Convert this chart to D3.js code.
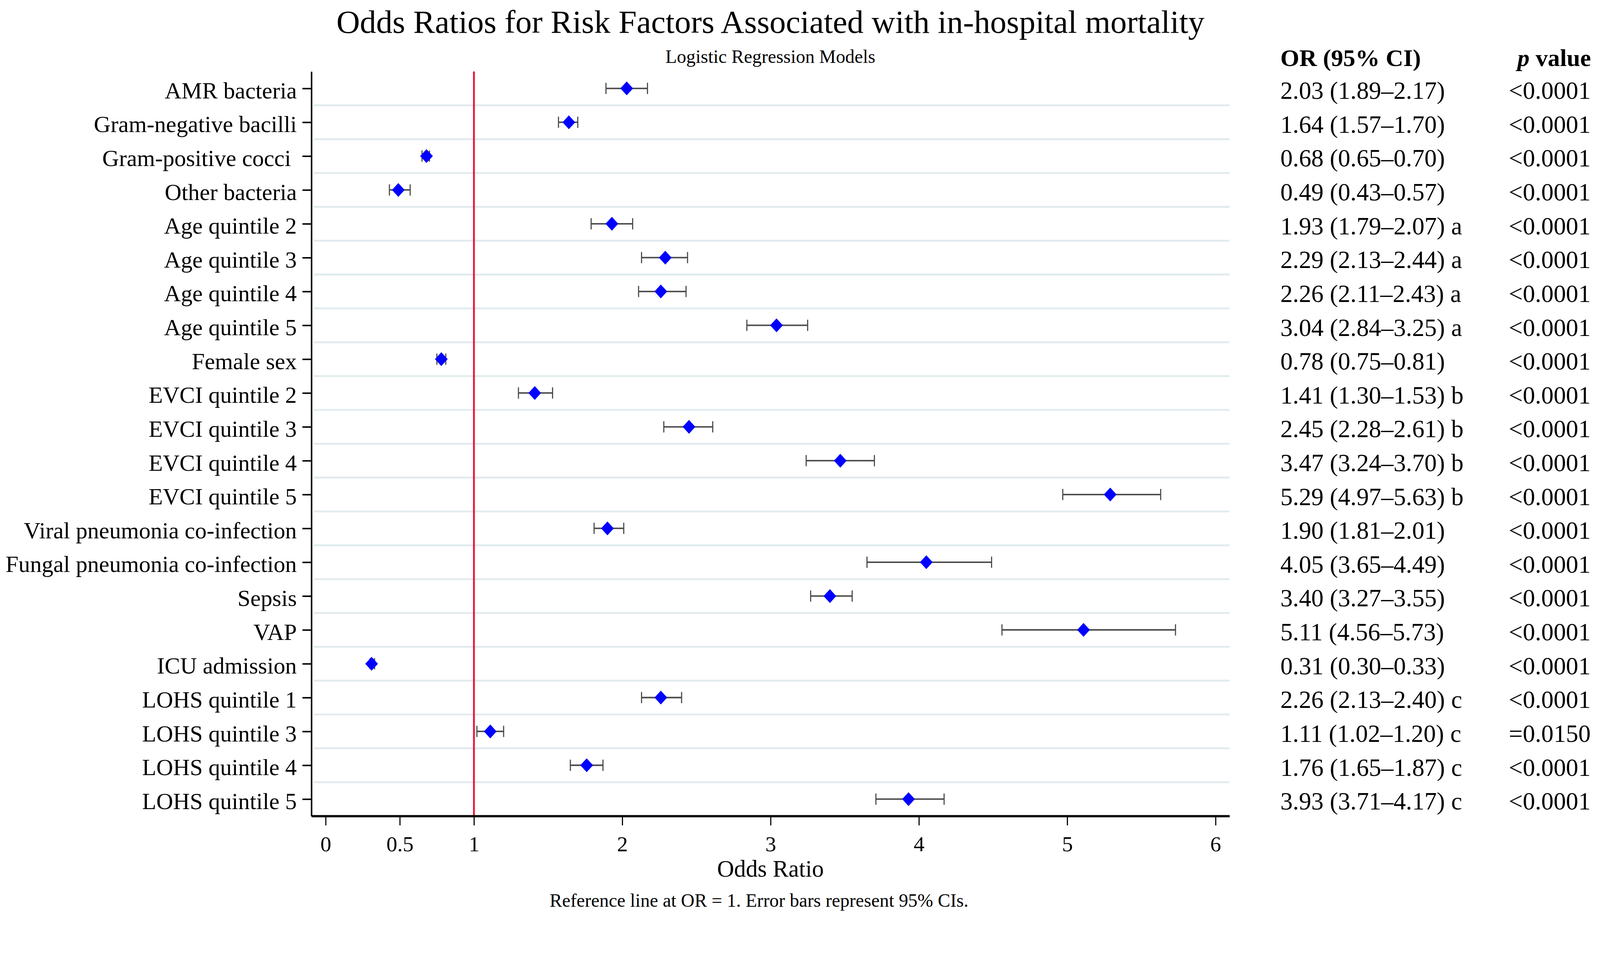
<!DOCTYPE html>
<html>
<head>
<meta charset="utf-8">
<script src="https://cdn.jsdelivr.net/npm/d3@7"></script>
<style>
  html, body { margin: 0; padding: 0; background: #fff; overflow: hidden; }
  svg { display: block; width: 100vw; height: 100vh; }
  text { font-family: 'Liberation Serif', 'Times New Roman', serif; fill: #000; }
</style>
</head>
<body>
<svg id="chart"></svg>
<script>
// rows, top to bottom
const labels = [
  'AMR bacteria', 'Gram-negative bacilli', 'Gram-positive cocci ', 'Other bacteria',
  'Age quintile 2', 'Age quintile 3', 'Age quintile 4', 'Age quintile 5',
  'Female sex', 'EVCI quintile 2', 'EVCI quintile 3', 'EVCI quintile 4', 'EVCI quintile 5',
  'Viral pneumonia co-infection', 'Fungal pneumonia co-infection', 'Sepsis', 'VAP',
  'ICU admission', 'LOHS quintile 1', 'LOHS quintile 3', 'LOHS quintile 4', 'LOHS quintile 5'
];
const oddsRatios = [2.03, 1.64, 0.68, 0.49, 1.93, 2.29, 2.26, 3.04, 0.78, 1.41, 2.45, 3.47, 5.29,
  1.90, 4.05, 3.40, 5.11, 0.31, 2.26, 1.11, 1.76, 3.93];
const ciLow = [1.89, 1.57, 0.65, 0.43, 1.79, 2.13, 2.11, 2.84, 0.75, 1.30, 2.28, 3.24, 4.97,
  1.81, 3.65, 3.27, 4.56, 0.30, 2.13, 1.02, 1.65, 3.71];
const ciHigh = [2.17, 1.70, 0.70, 0.57, 2.07, 2.44, 2.43, 3.25, 0.81, 1.53, 2.61, 3.70, 5.63,
  2.01, 4.49, 3.55, 5.73, 0.33, 2.40, 1.20, 1.87, 4.17];
const ciNotes = ['', '', '', '', 'a', 'a', 'a', 'a', '', 'b', 'b', 'b', 'b',
  '', '', '', '', '', 'c', 'c', 'c', 'c'];
const pValues = ['<0.0001', '<0.0001', '<0.0001', '<0.0001', '<0.0001', '<0.0001', '<0.0001',
  '<0.0001', '<0.0001', '<0.0001', '<0.0001', '<0.0001', '<0.0001', '<0.0001', '<0.0001',
  '<0.0001', '<0.0001', '<0.0001', '<0.0001', '=0.0150', '<0.0001', '<0.0001'];
const xTicks = [0, 0.5, 1, 2, 3, 4, 5, 6];
const refValue = 1;

const width = 4275;
const height = 2447;
const plot = { left: 832, right: 3285, top: 191, bottom: 2180 };

const rows = labels.map(function (d, i) {
  return { label: d, or: oddsRatios[i], lo: ciLow[i], hi: ciHigh[i], note: ciNotes[i], p: pValues[i] };
});

// fit the drawing to the viewport width, pinned to the top
const svg = d3.select('#chart')
  .attr('viewBox', `0 0 ${width} ${height}`)
  .attr('preserveAspectRatio', 'xMidYMin meet');
svg.append('rect').attr('width', width).attr('height', height).attr('fill', '#fff');

const x = d3.scaleLinear().domain([-0.096, 6.094]).range([plot.left, plot.right]);
const y = d3.scalePoint().domain(labels).range([plot.top, plot.bottom]).padding(0.5);
const step = y.step();

// row separators
svg.append('g')
  .selectAll('line')
  .data(labels.slice(1))
  .enter()
  .append('line')
  .attr('x1', plot.left + 7)
  .attr('x2', plot.right)
  .attr('y1', function (d) { return y(d) - step / 2; })
  .attr('y2', function (d) { return y(d) - step / 2; })
  .attr('stroke', '#e1ebee')
  .attr('stroke-width', 5);

// reference line
svg.append('line')
  .attr('x1', x(refValue)).attr('x2', x(refValue))
  .attr('y1', plot.top).attr('y2', plot.bottom)
  .attr('stroke', '#ea1a3d')
  .attr('stroke-width', 5);

// axes
const xAxis = svg.append('g')
  .attr('transform', `translate(0,${plot.bottom})`)
  .call(d3.axisBottom(x).tickValues(xTicks).tickFormat(d3.format('~g')).tickSize(25).tickSizeOuter(0).tickPadding(28));
xAxis.select('.domain').attr('stroke-width', 6);
xAxis.selectAll('.tick line').attr('stroke-width', 3);
xAxis.selectAll('.tick text').style('font-size', '58px').attr('fill', '#000');

const yAxis = svg.append('g')
  .attr('transform', `translate(${plot.left},0)`)
  .call(d3.axisLeft(y).tickSize(24).tickSizeOuter(0).tickPadding(15));
yAxis.select('.domain').attr('stroke-width', 4);
yAxis.selectAll('.tick line').attr('stroke-width', 4);
yAxis.selectAll('.tick text')
  .style('font-size', '62px')
  .style('white-space', 'pre')
  .attr('dy', '0.42em')
  .attr('fill', '#000');

// error bars
const bars = svg.append('g').selectAll('g').data(rows).enter().append('g');
bars.append('line')
  .attr('x1', function (d) { return x(d.lo); })
  .attr('x2', function (d) { return x(d.hi); })
  .attr('y1', function (d) { return y(d.label); })
  .attr('y2', function (d) { return y(d.label); })
  .attr('stroke', '#4a4a4a').attr('stroke-width', 4);
['lo', 'hi'].forEach(function (k) {
  bars.append('line')
    .attr('x1', function (d) { return x(d[k]); })
    .attr('x2', function (d) { return x(d[k]); })
    .attr('y1', function (d) { return y(d.label) - 15; })
    .attr('y2', function (d) { return y(d.label) + 15; })
    .attr('stroke', '#4a4a4a').attr('stroke-width', 3);
});

// diamonds
const diamond = d3.symbol().type(d3.symbolSquare).size(576);
svg.append('g')
  .selectAll('path')
  .data(rows)
  .enter()
  .append('path')
  .attr('d', diamond)
  .attr('transform', function (d) {
    return `translate(${x(d.or)},${y(d.label)}) scale(1,1.09) rotate(45)`;
  })
  .attr('fill', '#0000ff');

// titles
const cx = (plot.left + plot.right) / 2;
svg.append('text').attr('x', cx).attr('y', 88).attr('text-anchor', 'middle')
  .style('font-size', '87px').text('Odds Ratios for Risk Factors Associated with in-hospital mortality');
svg.append('text').attr('x', cx).attr('y', 168).attr('text-anchor', 'middle')
  .style('font-size', '50px').text('Logistic Regression Models');
svg.append('text').attr('x', cx).attr('y', 2342).attr('text-anchor', 'middle')
  .style('font-size', '63px').text('Odds Ratio');
svg.append('text').attr('x', 2028).attr('y', 2422).attr('text-anchor', 'middle')
  .style('font-size', '50px').text('Reference line at OR = 1. Error bars represent 95% CIs.');

// table on the right
const fmt = d3.format('.2f');
svg.append('text').attr('x', 3421).attr('y', 176)
  .style('font-size', '65px').style('font-weight', 'bold').text('OR (95% CI)');
const pHead = svg.append('text').attr('x', 4251).attr('y', 176).attr('text-anchor', 'end')
  .style('font-size', '65px').style('font-weight', 'bold');
pHead.append('tspan').style('font-style', 'italic').text('p');
pHead.append('tspan').text(' value');

svg.append('g')
  .selectAll('text')
  .data(rows)
  .enter()
  .append('text')
  .attr('x', 3421)
  .attr('y', function (d) { return y(d.label) + 28; })
  .style('font-size', '66px')
  .text(function (d) {
    return `${fmt(d.or)} (${fmt(d.lo)}–${fmt(d.hi)})` + (d.note ? ' ' + d.note : '');
  });

svg.append('g')
  .selectAll('text')
  .data(rows)
  .enter()
  .append('text')
  .attr('x', 4250)
  .attr('y', function (d) { return y(d.label) + 28; })
  .attr('text-anchor', 'end')
  .style('font-size', '66px')
  .text(function (d) { return d.p; });
</script>
</body>
</html>
